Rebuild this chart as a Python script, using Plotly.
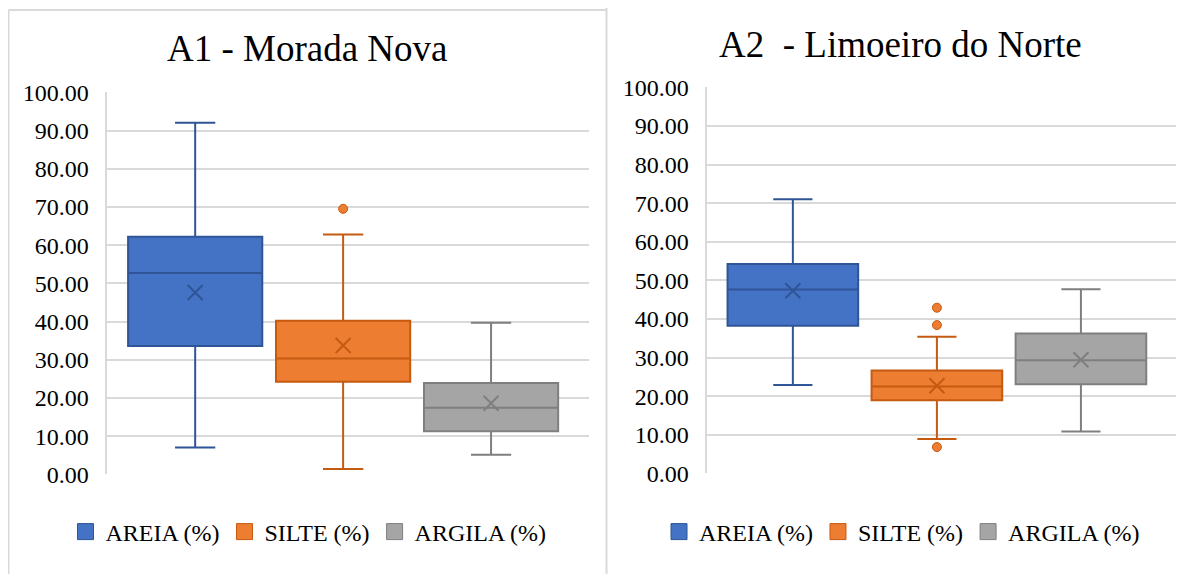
import plotly.graph_objects as go

# The page body adds an 8px margin around the figure; the figure is sized to
# fill the rest of the 1190x574 window and positions are given in window pixels.
OFF = 8
W, H = 1190 - OFF, 574 - OFF

categories = ["AREIA (%)", "SILTE (%)", "ARGILA (%)"]

# Panel A1 - Morada Nova
a1_lower = [7.0, 1.4, 5.1]
a1_q1 = [33.6, 24.2, 11.3]
a1_median = [52.7, 30.3, 17.4]
a1_q3 = [62.2, 40.2, 23.9]
a1_upper = [92.0, 62.8, 39.7]
a1_mean = [47.6, 33.7, 18.6]
a1_outliers = [[], [69.5], []]

# Panel A2 - Limoeiro do Norte
a2_lower = [22.9, 8.9, 10.8]
a2_q1 = [38.2, 18.9, 23.1]
a2_median = [47.6, 22.5, 29.3]
a2_q3 = [54.2, 26.6, 36.2]
a2_upper = [71.0, 35.4, 47.7]
a2_mean = [47.3, 22.7, 29.4]
a2_outliers = [[], [42.9, 38.4, 6.8], []]

fill_colors = ["#4472C4", "#ED7D31", "#A5A5A5"]
edge_colors = ["#2F5597", "#C55A11", "#7F7F7F"]

titles = ["A1 - Morada Nova", "A2\u00a0 - Limoeiro do Norte"]
y_ticks = [0, 10, 20, 30, 40, 50, 60, 70, 80, 90, 100]

FONT = "Liberation Serif"

def px_x(p):
    return (p - OFF) / W

def px_y(p):
    return 1 - (p - OFF) / H

fig = go.Figure()

panels = [
    dict(lower=a1_lower, q1=a1_q1, med=a1_median, q3=a1_q3, upper=a1_upper,
         mean=a1_mean, out=a1_outliers, xa="x", ya="y", leg="legend"),
    dict(lower=a2_lower, q1=a2_q1, med=a2_median, q3=a2_q3, upper=a2_upper,
         mean=a2_mean, out=a2_outliers, xa="x2", ya="y2", leg="legend2"),
]

for p in panels:
    for i, cat in enumerate(categories):
        fig.add_trace(go.Box(
            x=[cat], q1=[p["q1"][i]], median=[p["med"][i]], q3=[p["q3"][i]],
            lowerfence=[p["lower"][i]], upperfence=[p["upper"][i]],
            fillcolor=fill_colors[i], line=dict(color=edge_colors[i], width=2),
            width=0.907, whiskerwidth=0.3, boxpoints=False,
            xaxis=p["xa"], yaxis=p["ya"], showlegend=False, hoverinfo="skip",
        ))
        fig.add_trace(go.Scatter(
            x=[cat], y=[p["mean"][i]], mode="markers",
            marker=dict(symbol="x-thin", size=15,
                        line=dict(color=edge_colors[i], width=2)),
            xaxis=p["xa"], yaxis=p["ya"], showlegend=False, hoverinfo="skip",
        ))
        if p["out"][i]:
            fig.add_trace(go.Scatter(
                x=[cat] * len(p["out"][i]), y=p["out"][i], mode="markers",
                marker=dict(symbol="circle", size=9, color=fill_colors[i],
                            line=dict(color=edge_colors[i], width=1)),
                xaxis=p["xa"], yaxis=p["ya"], showlegend=False, hoverinfo="skip",
            ))
    for i, cat in enumerate(categories):
        fig.add_trace(go.Scatter(
            x=[None], y=[None], mode="markers", name=cat,
            marker=dict(symbol="square", size=16, color=fill_colors[i],
                        line=dict(color=edge_colors[i], width=1)),
            xaxis=p["xa"], yaxis=p["ya"], legend=p["leg"], showlegend=True,
        ))

axis_common_x = dict(type="category", categoryorder="array", categoryarray=categories,
                     range=[-0.594, 2.66], showticklabels=False, showgrid=False,
                     zeroline=False, showline=False, ticks="", automargin=False)
axis_common_y = dict(range=[0, 100], tickvals=y_ticks, tickformat=".2f",
                     showgrid=True, gridcolor="#D9D9D9", gridwidth=1.5,
                     zeroline=False, showline=True, linecolor="#D9D9D9", linewidth=1.5,
                     ticks="", ticklabelstandoff=12, automargin=False,
                     tickfont=dict(family=FONT, size=24, color="#000000"))

legend_common = dict(orientation="h", xanchor="center", yanchor="middle",
                     font=dict(family=FONT, size=24, color="#000000"),
                     itemsizing="trace", bgcolor="rgba(0,0,0,0)")

fig.update_layout(
    template="none",
    width=W, height=H,
    margin=dict(l=0, r=0, t=0, b=0, pad=0, autoexpand=False),
    paper_bgcolor="white", plot_bgcolor="white",
    boxmode="overlay",
    font=dict(family=FONT, size=24, color="#000000"),
    xaxis=dict(domain=[px_x(107.3), px_x(588.7)], anchor="y", **axis_common_x),
    yaxis=dict(domain=[px_y(474.3), px_y(92.3)], anchor="x", **axis_common_y),
    xaxis2=dict(domain=[px_x(707.3), px_x(1176)], anchor="y2", **axis_common_x),
    yaxis2=dict(domain=[px_y(473.3), px_y(87.3)], anchor="x2", **axis_common_y),
    legend=dict(x=px_x(308.5), y=px_y(532), **legend_common),
    legend2=dict(x=px_x(902), y=px_y(532), **legend_common),
    showlegend=True,
)

fig.add_annotation(text=titles[0], x=px_x(307), y=px_y(48), xref="paper", yref="paper",
                   xanchor="center", yanchor="middle", showarrow=False,
                   font=dict(family=FONT, size=37, color="#000000"))
fig.add_annotation(text=titles[1], x=px_x(901), y=px_y(44), xref="paper", yref="paper",
                   xanchor="center", yanchor="middle", showarrow=False,
                   font=dict(family=FONT, size=37, color="#000000"))

border = dict(color="#D9D9D9", width=2)
fig.add_shape(type="line", xref="paper", yref="paper", x0=px_x(8.5), x1=px_x(8.5),
              y0=px_y(10), y1=px_y(580), line=border)
fig.add_shape(type="line", xref="paper", yref="paper", x0=px_x(8.5), x1=px_x(606.5),
              y0=px_y(10), y1=px_y(10), line=border)
fig.add_shape(type="line", xref="paper", yref="paper", x0=px_x(606.5), x1=px_x(606.5),
              y0=px_y(7), y1=px_y(580), line=border)
fig.add_shape(type="line", xref="paper", yref="paper", x0=px_x(606.5), x1=px_x(1195),
              y0=px_y(7), y1=px_y(7), line=border)

fig.write_html("out.html")
